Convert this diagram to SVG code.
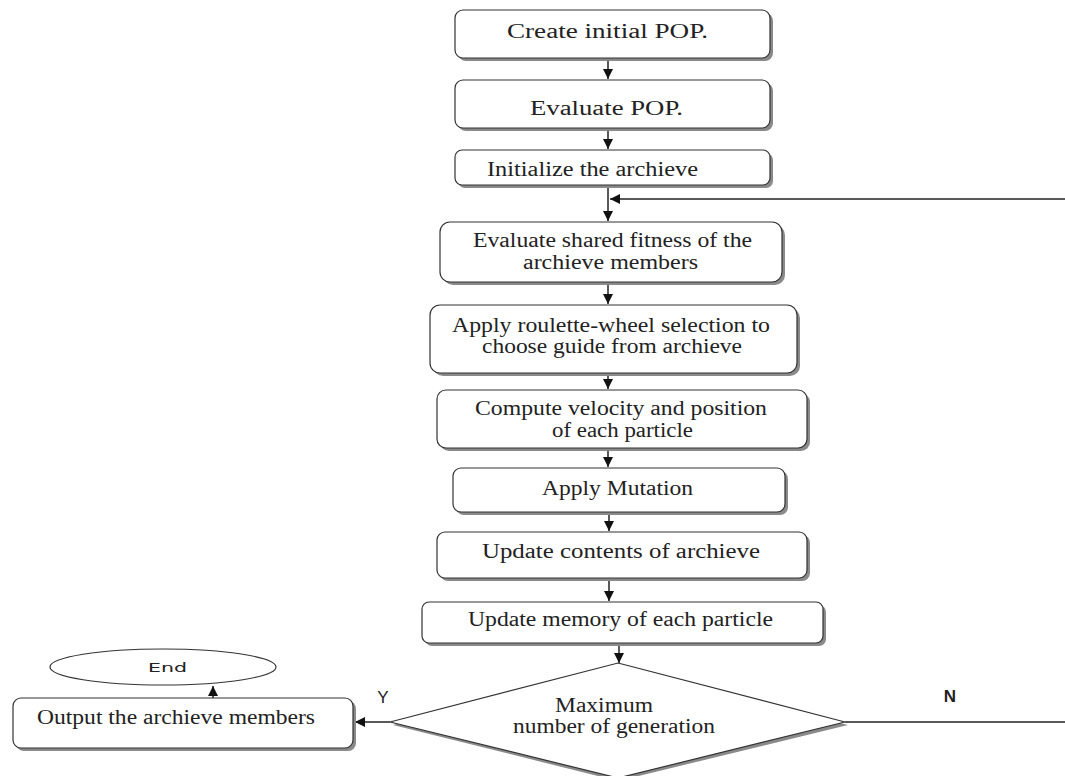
<svg xmlns="http://www.w3.org/2000/svg" width="1065" height="776" viewBox="0 0 1065 776">
<style>
.sh{fill:#8a8a8a}
.bx{fill:#fff;stroke:#333;stroke-width:1.2}
.t{font-family:"Liberation Serif","Times New Roman",serif;font-size:20px;fill:#222;text-anchor:middle}
.s{font-family:"Liberation Sans",Arial,sans-serif;font-size:17px;fill:#222;text-anchor:middle}
.ln{stroke:#222;stroke-width:1.5;fill:none}
</style>
<defs>
<marker id="ah" viewBox="0 0 10 10" refX="10" refY="5" markerWidth="10" markerHeight="10" markerUnits="userSpaceOnUse" orient="auto">
<path d="M0,0 L10,5 L0,10 Z" fill="#111"/>
</marker>
</defs>
<rect width="1065" height="776" fill="#fff"/>
<g id="connectors">
<line class="ln" x1="608" y1="58" x2="608" y2="79" marker-end="url(#ah)"/>
<line class="ln" x1="608" y1="128" x2="608" y2="149" marker-end="url(#ah)"/>
<line class="ln" x1="608" y1="185" x2="608" y2="221" marker-end="url(#ah)"/>
<line class="ln" x1="1065" y1="199" x2="610" y2="199" marker-end="url(#ah)"/>
<line class="ln" x1="608" y1="282" x2="608" y2="304" marker-end="url(#ah)"/>
<line class="ln" x1="608" y1="373" x2="608" y2="389" marker-end="url(#ah)"/>
<line class="ln" x1="608" y1="448" x2="608" y2="467" marker-end="url(#ah)"/>
<line class="ln" x1="609" y1="512" x2="609" y2="531" marker-end="url(#ah)"/>
<line class="ln" x1="609" y1="578" x2="609" y2="601" marker-end="url(#ah)"/>
<line class="ln" x1="619" y1="643" x2="619" y2="663" marker-end="url(#ah)"/>
<line class="ln" x1="390" y1="722" x2="355" y2="722" marker-end="url(#ah)"/>
<line class="ln" x1="213" y1="698" x2="213" y2="686" marker-end="url(#ah)"/>
<line class="ln" x1="845" y1="722" x2="1065" y2="722"/>
<text class="s" x="383" y="703">Y</text>
<text class="s" x="950" y="702" font-weight="bold">N</text>
</g>
<g id="n1"><rect class="sh" x="458" y="13" width="315" height="48" rx="8"/><rect class="bx" x="455" y="10" width="315" height="48" rx="8"/><text class="t" x="607.5" y="38" textLength="201" lengthAdjust="spacingAndGlyphs">Create initial POP.</text></g>
<g id="n2"><rect class="sh" x="458" y="83" width="315" height="48" rx="8"/><rect class="bx" x="455" y="80" width="315" height="48" rx="8"/><text class="t" x="606.5" y="115" textLength="153" lengthAdjust="spacingAndGlyphs">Evaluate POP.</text></g>
<g id="n3"><rect class="sh" x="458" y="153" width="315" height="35" rx="7"/><rect class="bx" x="455" y="150" width="315" height="35" rx="7"/><text class="t" x="592.5" y="176" textLength="211" lengthAdjust="spacingAndGlyphs">Initialize the archieve</text></g>
<g id="n4"><rect class="sh" x="443" y="225" width="342" height="60" rx="10"/><rect class="bx" x="440" y="222" width="342" height="60" rx="10"/><text class="t" x="612.5" y="247" textLength="279" lengthAdjust="spacingAndGlyphs">Evaluate shared fitness of the</text><text class="t" x="610.5" y="269" textLength="175" lengthAdjust="spacingAndGlyphs">archieve members</text></g>
<g id="n5"><rect class="sh" x="433" y="308" width="367" height="68" rx="10"/><rect class="bx" x="430" y="305" width="367" height="68" rx="10"/><text class="t" x="611" y="332" textLength="318" lengthAdjust="spacingAndGlyphs">Apply roulette-wheel selection to</text><text class="t" x="612" y="353" textLength="260" lengthAdjust="spacingAndGlyphs">choose guide from archieve</text></g>
<g id="n6"><rect class="sh" x="440" y="393" width="370" height="58" rx="9"/><rect class="bx" x="437" y="390" width="370" height="58" rx="9"/><text class="t" x="621" y="415" textLength="292" lengthAdjust="spacingAndGlyphs">Compute velocity and position</text><text class="t" x="622.5" y="437" textLength="141" lengthAdjust="spacingAndGlyphs">of each particle</text></g>
<g id="n7"><rect class="sh" x="456" y="471" width="332" height="44" rx="8"/><rect class="bx" x="453" y="468" width="332" height="44" rx="8"/><text class="t" x="617.5" y="495" textLength="151" lengthAdjust="spacingAndGlyphs">Apply Mutation</text></g>
<g id="n8"><rect class="sh" x="440" y="535" width="370" height="46" rx="8"/><rect class="bx" x="437" y="532" width="370" height="46" rx="8"/><text class="t" x="621" y="558" textLength="278" lengthAdjust="spacingAndGlyphs">Update contents of archieve</text></g>
<g id="n9"><rect class="sh" x="425" y="605" width="401" height="41" rx="7"/><rect class="bx" x="422" y="602" width="401" height="41" rx="7"/><text class="t" x="620.5" y="626" textLength="305" lengthAdjust="spacingAndGlyphs">Update memory of each particle</text></g>
<g id="decision"><polygon points="618,666 848,725 618,781 393,725" fill="#8a8a8a"/><polygon points="618,663 845,722 618,778 390,722" fill="#fff" stroke="#333" stroke-width="1.2"/><text class="t" x="604" y="712" textLength="98" lengthAdjust="spacingAndGlyphs">Maximum</text><text class="t" x="614" y="733" textLength="202" lengthAdjust="spacingAndGlyphs">number of generation</text></g>
<g id="output"><rect class="sh" x="16" y="701" width="340" height="50" rx="8"/><rect class="bx" x="13" y="698" width="340" height="50" rx="8"/><text class="t" x="37" y="724" style="text-anchor:start" textLength="278" lengthAdjust="spacingAndGlyphs">Output the archieve members</text></g>
<g id="end"><ellipse cx="163" cy="667" rx="113" ry="18" fill="#fff" stroke="#333" stroke-width="1.2"/><text x="167.5" y="672" font-family="'DejaVu Sans',Verdana,sans-serif" font-size="12" fill="#222" text-anchor="middle" textLength="39" lengthAdjust="spacingAndGlyphs">End</text></g>
</svg>
